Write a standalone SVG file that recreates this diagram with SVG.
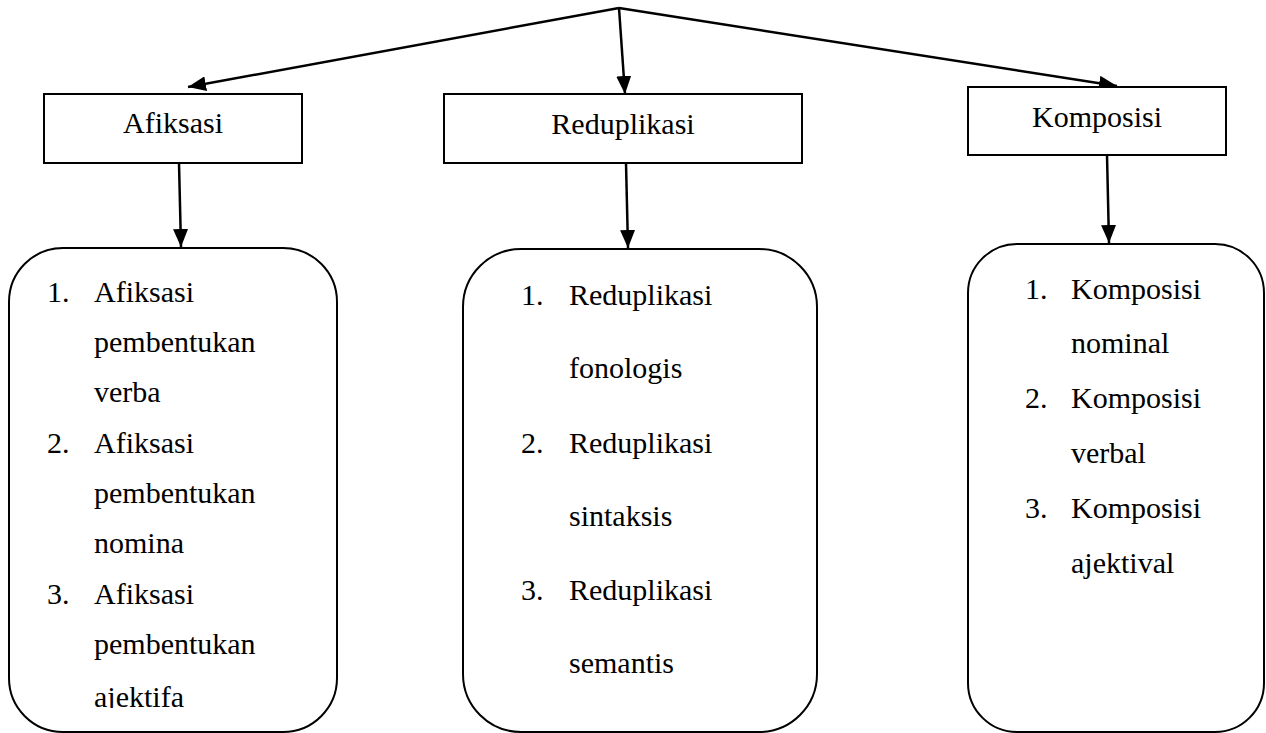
<svg xmlns="http://www.w3.org/2000/svg" width="1266" height="733" viewBox="0 0 1266 733">
<style>
.box{fill:#fff;stroke:#000;stroke-width:2}
.t{font-family:"Liberation Serif","Times New Roman",serif;font-size:30px;fill:#000}
.c{text-anchor:middle}
.ln{fill:none;stroke:#000;stroke-width:2.5}
</style>
<defs>
<marker id="ah" viewBox="0 0 18 15" refX="18" refY="7.5" markerWidth="18" markerHeight="15" markerUnits="userSpaceOnUse" orient="auto">
<path d="M0,0 L18,7.5 L0,15 Z" fill="#000"/>
</marker>
<clipPath id="clipL"><rect x="9" y="248" width="328" height="460"/></clipPath>
</defs>
<rect width="1266" height="733" fill="#fff"/>
<g id="connectors">
<line class="ln" x1="619" y1="8" x2="188" y2="87" marker-end="url(#ah)"/>
<line class="ln" x1="619" y1="8" x2="625" y2="94" marker-end="url(#ah)"/>
<line class="ln" x1="619" y1="8" x2="1117" y2="86" marker-end="url(#ah)"/>
<line class="ln" x1="179" y1="163" x2="181" y2="247" marker-end="url(#ah)"/>
<line class="ln" x1="626" y1="163" x2="628" y2="248" marker-end="url(#ah)"/>
<line class="ln" x1="1107" y1="155" x2="1109" y2="243" marker-end="url(#ah)"/>
</g>
<g id="afiksasi">
<rect class="box" x="44" y="94" width="258" height="69"/>
<text class="t c" x="173" y="133">Afiksasi</text>
</g>
<g id="reduplikasi">
<rect class="box" x="444" y="94" width="358" height="69"/>
<text class="t c" x="623" y="134">Reduplikasi</text>
</g>
<g id="komposisi">
<rect class="box" x="968" y="87" width="258" height="68"/>
<text class="t c" x="1097" y="127">Komposisi</text>
</g>
<g id="afiksasi-list">
<rect class="box" x="9" y="248" width="328" height="484" rx="54" ry="54"/>
<g clip-path="url(#clipL)">
<text class="t" x="47" y="302">1.</text>
<text class="t" x="94" y="302">Afiksasi</text>
<text class="t" x="94" y="352">pembentukan</text>
<text class="t" x="94" y="402">verba</text>
<text class="t" x="47" y="453">2.</text>
<text class="t" x="94" y="453">Afiksasi</text>
<text class="t" x="94" y="503">pembentukan</text>
<text class="t" x="94" y="553">nomina</text>
<text class="t" x="47" y="604">3.</text>
<text class="t" x="94" y="604">Afiksasi</text>
<text class="t" x="94" y="654">pembentukan</text>
<text class="t" x="94" y="707">ajektifa</text>
</g>
</g>
<g id="reduplikasi-list">
<rect class="box" x="463" y="249" width="354" height="483" rx="58" ry="58"/>
<text class="t" x="521" y="305">1.</text>
<text class="t" x="569" y="305">Reduplikasi</text>
<text class="t" x="569" y="378">fonologis</text>
<text class="t" x="521" y="453">2.</text>
<text class="t" x="569" y="453">Reduplikasi</text>
<text class="t" x="569" y="526">sintaksis</text>
<text class="t" x="521" y="600">3.</text>
<text class="t" x="569" y="600">Reduplikasi</text>
<text class="t" x="569" y="673">semantis</text>
</g>
<g id="komposisi-list">
<rect class="box" x="968" y="244" width="296" height="488" rx="49" ry="49"/>
<text class="t" x="1025" y="299">1.</text>
<text class="t" x="1071" y="299">Komposisi</text>
<text class="t" x="1071" y="353">nominal</text>
<text class="t" x="1025" y="408">2.</text>
<text class="t" x="1071" y="408">Komposisi</text>
<text class="t" x="1071" y="463">verbal</text>
<text class="t" x="1025" y="518">3.</text>
<text class="t" x="1071" y="518">Komposisi</text>
<text class="t" x="1071" y="573">ajektival</text>
</g>
</svg>
